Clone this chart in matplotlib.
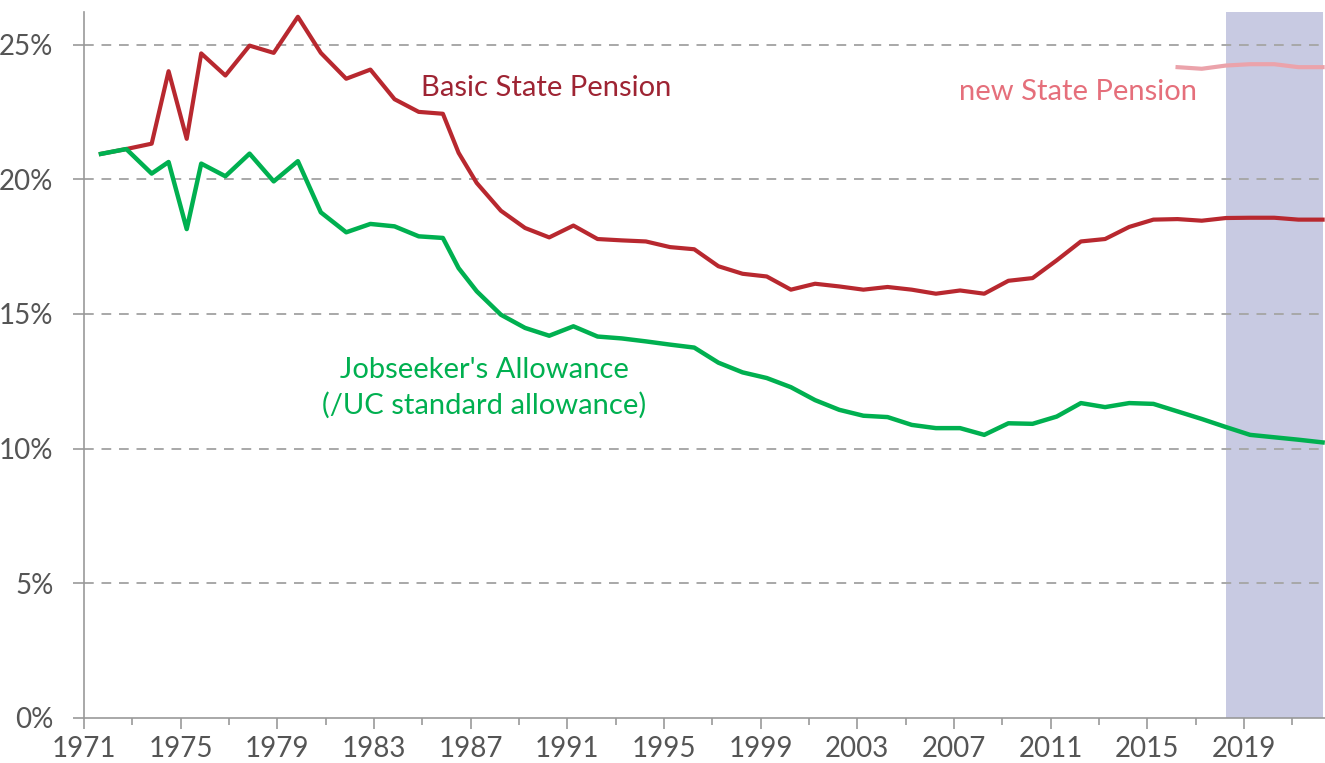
import numpy as np
import matplotlib.pyplot as plt
from matplotlib.ticker import FixedLocator, MultipleLocator, FuncFormatter

plt.rcParams['font.family'] = ['Lato', 'DejaVu Sans']

# uprating dates (decimal years) and rates as % of average earnings
years = [1971.7, 1972.75, 1973.8, 1974.5, 1975.25, 1975.85, 1976.85, 1977.85,
         1978.85, 1979.85, 1980.8, 1981.85, 1982.85, 1983.85, 1984.85, 1985.85,
         1986.5] + [1987.25 + i for i in range(36)]

bsp = [20.94, 21.12, 21.32, 24.01, 21.50, 24.67, 23.85, 24.96,
       24.69, 26.03, 24.69, 23.73, 24.07, 22.97, 22.50, 22.43,
       20.98, 19.86, 18.83, 18.19, 17.84, 18.28, 17.78, 17.73,
       17.69, 17.48, 17.40, 16.77, 16.49, 16.39, 15.90, 16.12,
       16.02, 15.90, 16.00, 15.90, 15.75, 15.87, 15.75, 16.23,
       16.33, 16.99, 17.69, 17.78, 18.23, 18.50, 18.52, 18.46,
       18.56, 18.57, 18.57, 18.50, 18.50]

jsa = [20.94, 21.12, 20.21, 20.64, 18.15, 20.58, 20.11, 20.95,
       19.92, 20.67, 18.77, 18.03, 18.34, 18.25, 17.88, 17.82,
       16.70, 15.84, 14.97, 14.48, 14.19, 14.54, 14.16, 14.09,
       13.98, 13.86, 13.75, 13.19, 12.83, 12.62, 12.28, 11.80,
       11.44, 11.22, 11.17, 10.88, 10.76, 10.76, 10.51, 10.94,
       10.92, 11.19, 11.69, 11.54, 11.69, 11.66, 11.38, 11.10,
       10.80, 10.51, 10.42, 10.33, 10.23]

nsp_years = [2016.25, 2017.25, 2018.25, 2019.25, 2020.25, 2021.25, 2022.25]
nsp = [24.16, 24.10, 24.22, 24.27, 24.27, 24.16, 24.16]

label_years = np.arange(1971, 2023, 4)
forecast_start = 2018.25
forecast_end = 2022.25

fig = plt.figure(figsize=(13.25, 7.63), dpi=100)
ax = fig.add_axes([0.0634, 0.059, 0.9366, 0.925])

ax.axvspan(forecast_start, forecast_end, color='#c8cae2', lw=0, zorder=0)
for v in [5, 10, 15, 20, 25]:
    ax.axhline(v, color='#a8a8a8', lw=1.4, ls=(0, (5, 4)), zorder=1)

ax.plot(years, bsp, color='#b8282f', lw=3, zorder=3)
ax.plot(years, jsa, color='#00b050', lw=3.2, zorder=4)
ax.plot(nsp_years, nsp, color='#eba3ab', lw=3, zorder=3)

ax.text(1984.95, 23.4, 'Basic State Pension', color='#9e2433', fontsize=21,
        va='center', ha='left')
ax.text(2017.05, 23.25, 'new State Pension', color='#e56f7b', fontsize=21,
        va='center', ha='right')
ax.text(1987.55, 12.25, "Jobseeker's Allowance\n(/UC standard allowance)",
        color='#00b050', fontsize=21, va='center', ha='center', linespacing=1.4)

ax.set_xlim(1971, 2022.35)
ax.set_ylim(0, 26.2)
ax.xaxis.set_major_locator(FixedLocator(label_years))
ax.xaxis.set_minor_locator(FixedLocator(label_years + 2))
ax.xaxis.set_major_formatter(FuncFormatter(lambda v, p: f'{v:.0f}'))
ax.yaxis.set_major_locator(MultipleLocator(5))
ax.yaxis.set_major_formatter(FuncFormatter(lambda v, p: f'{v:.0f}%'))

for s in ['top', 'right']:
    ax.spines[s].set_visible(False)
for s in ['left', 'bottom']:
    ax.spines[s].set_color('#999999')
    ax.spines[s].set_linewidth(1.2)

ax.tick_params(axis='x', which='major', length=8, width=1.2, color='#999999',
               labelsize=20, labelcolor='#555555', pad=5)
ax.tick_params(axis='x', which='minor', length=5, width=1.2, color='#999999')
ax.tick_params(axis='y', which='major', length=8, width=1.2, color='#999999',
               labelsize=20, labelcolor='#555555', pad=14)

fig.savefig('out.png', dpi=100)
